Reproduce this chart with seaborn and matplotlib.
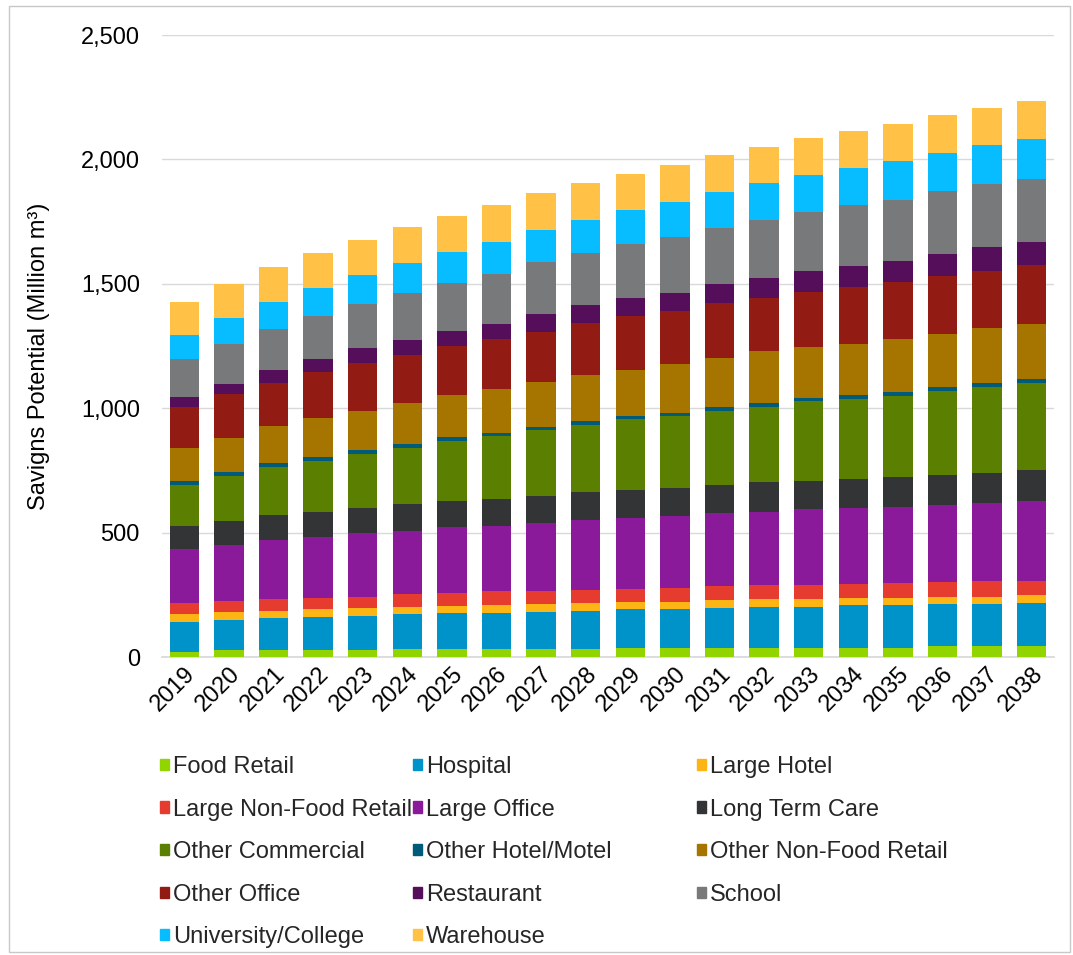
import numpy as np
import matplotlib
matplotlib.use("Agg")
import matplotlib.pyplot as plt
import matplotlib.patches as mpatches
from matplotlib.ticker import FuncFormatter
import seaborn as sns

# data (million m3)
years = [str(y) for y in range(2019, 2039)]

food_retail = [21, 27, 27, 27, 27, 32, 32, 32, 32, 32, 37, 37, 37, 37, 37, 37, 37, 43, 43, 43]
hospital = [118, 123, 128, 134, 139, 140, 145, 145, 150, 154, 155, 155, 160, 165, 165, 171, 171, 170, 170, 175]
large_hotel = [33, 31, 31, 31, 30, 29, 29, 31, 30, 31, 30, 30, 31, 31, 31, 29, 29, 30, 30, 30]
large_nonfood = [45, 45, 47, 47, 47, 52, 53, 56, 55, 52, 53, 55, 56, 56, 56, 58, 59, 57, 61, 58]
large_office = [217, 224, 237, 242, 254, 255, 262, 263, 272, 283, 284, 290, 294, 295, 306, 302, 308, 310, 316, 320]
long_term_care = [94, 98, 100, 103, 103, 107, 105, 107, 109, 110, 113, 113, 115, 120, 113, 118, 118, 120, 121, 124]
other_commercial = [163, 181, 195, 205, 215, 225, 241, 253, 263, 271, 283, 287, 297, 301, 319, 323, 327, 338, 344, 351]
other_hotel = [17, 15, 15, 16, 16, 16, 16, 15, 14, 16, 15, 15, 15, 17, 15, 16, 16, 18, 16, 16]
other_nonfood = [132, 138, 149, 154, 159, 165, 169, 176, 181, 185, 185, 195, 195, 206, 205, 206, 213, 214, 221, 221]
other_office = [165, 175, 174, 185, 192, 194, 196, 201, 201, 207, 215, 215, 222, 214, 221, 226, 230, 233, 231, 236]
restaurant = [42, 42, 52, 53, 58, 58, 61, 61, 73, 73, 72, 73, 76, 81, 83, 87, 84, 88, 93, 94]
school = [150, 159, 165, 175, 178, 192, 196, 200, 206, 210, 216, 225, 226, 233, 236, 243, 246, 252, 254, 255]
university = [97, 103, 108, 113, 119, 118, 124, 130, 129, 134, 140, 140, 145, 149, 150, 149, 156, 153, 159, 161]
warehouse = [134, 140, 138, 139, 138, 144, 144, 145, 148, 149, 143, 147, 148, 144, 148, 150, 149, 151, 149, 149]

segments = ["Food Retail", "Hospital", "Large Hotel", "Large Non-Food Retail", "Large Office",
            "Long Term Care", "Other Commercial", "Other Hotel/Motel", "Other Non-Food Retail",
            "Other Office", "Restaurant", "School", "University/College", "Warehouse"]
series = [food_retail, hospital, large_hotel, large_nonfood, large_office, long_term_care,
          other_commercial, other_hotel, other_nonfood, other_office, restaurant, school,
          university, warehouse]
colors = ["#92D400", "#0093C9", "#FDB515", "#E63C2F", "#8B1A9A", "#333436", "#5B7F00",
          "#005A79", "#A67500", "#921C13", "#540E5A", "#77797B", "#07BCFF", "#FFC247"]

sns.set_theme(style="white")
plt.rcParams["font.family"] = ["Liberation Sans", "DejaVu Sans"]

fig = plt.figure(figsize=(10.73, 9.55), dpi=100)
ax = fig.add_axes([162 / 1073, 1 - 657 / 955, 892 / 1073, 622 / 955])

# stacked bars: draw cumulative totals from the top segment down
cum = np.cumsum(np.array(series), axis=0)
for i in range(len(segments) - 1, -1, -1):
    sns.barplot(x=years, y=cum[i], color=colors[i], saturation=1, width=0.66,
                ax=ax, zorder=3, linewidth=0)

ax.set_ylim(0, 2500)
ax.set_xlim(-0.5, 19.5)
ax.set_yticks(range(0, 2501, 500))
ax.yaxis.set_major_formatter(FuncFormatter(lambda v, p: f"{int(v):,}"))
ax.yaxis.grid(True, color="#d9d9d9", linewidth=1, zorder=0)
ax.set_axisbelow(True)
for s in ["top", "right", "left"]:
    ax.spines[s].set_visible(False)
ax.spines["bottom"].set_color("#d9d9d9")
ax.tick_params(axis="y", labelsize=17, length=0, pad=16, colors="black")
ax.tick_params(axis="x", labelsize=17, length=0, pad=4, colors="black")
plt.setp(ax.get_xticklabels(), rotation=45, ha="right", rotation_mode="anchor")
ax.set_xlabel("")
ax.set_ylabel("Savigns Potential (Million m³)", fontsize=17, color="black")
ax.yaxis.set_label_coords(-0.125, 0.484)

# legend: three columns laid out like the reference, filled row by row
handles = [mpatches.Patch(color=c, label=l) for c, l in zip(colors, segments)]
col_x = [160, 413, 697]
for k in range(3):
    fig.legend(handles=handles[k::3], loc="upper left",
               bbox_to_anchor=(col_x[k] / 1073, 1 - 756 / 955),
               frameon=False, fontsize=17, handlelength=0.36, handleheight=0.36,
               handletextpad=0.18, labelspacing=0.87, borderpad=0, borderaxespad=0)

# thin frame round the picture
fig.patches.append(mpatches.Rectangle((9 / 1073, 3 / 955), 1061 / 1073, 946 / 955,
                                      transform=fig.transFigure, fill=False,
                                      edgecolor="#c8c8c8", linewidth=1))

fig.savefig("out.png", dpi=100)
